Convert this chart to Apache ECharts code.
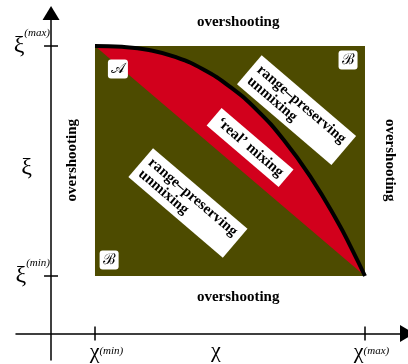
<!DOCTYPE html>
<html><head><meta charset="utf-8">
<script src="https://cdn.jsdelivr.net/npm/echarts@6/dist/echarts.min.js"></script>
<style>html,body{margin:0;padding:0;background:#fff}#c{width:408px;height:364px}</style>
</head><body><div id="c"></div>
<script>
// axis ranges (data units)
const chiRange = [0.14, 1.0];      // χ(min), χ(max)
const xiRange = [0.2, 1.0];        // ξ(min), ξ(max)
const chiTickSup = ['(min)', '(max)'];
const xiTickSup = ['(min)', '(max)'];
const chiNamePos = 0.525;
const xiNamePos = 0.575;
// boundary curve of the 'real' mixing region A
const curveChi = [0.14, 0.226, 0.312, 0.398, 0.484, 0.57, 0.656, 0.742, 0.828, 0.914, 0.957, 1.0];
const curveXi  = [1.0, 0.997, 0.986, 0.961, 0.919, 0.858, 0.777, 0.672, 0.542, 0.386, 0.296, 0.2];
// region annotations
const boxTexts = ['range–preserving\nunmixing', '‘real’ mixing', 'range–preserving\nunmixing'];
const boxChi = [0.782, 0.634, 0.436];
const boxXi = [0.777, 0.647, 0.454];
const letterTexts = ['𝒜', 'ℬ', 'ℬ'];
const letterChi = [0.213, 0.946, 0.185];
const letterXi = [0.92, 0.951, 0.2557];
const overTexts = ['overshooting', 'overshooting', 'overshooting', 'overshooting'];
const overChi = [0.596, 0.596, 0.0667, 1.0807];
const overXi = [1.0835, 0.127, 0.603, 0.603];
const overRotate = [0, 0, 90, -90];

const OLIVE = '#4d4b00', RED = '#d2001c';
const SERIF = '"Liberation Serif","DejaVu Serif",serif';
const chiSpacer = ['e1', 'e2'];

function near(a, b) { return Math.abs(a - b) < 1e-6; }
const chart = echarts.init(document.getElementById('c'), null, {renderer: 'canvas'});
const X_MIN = -0.1116, X_MAX = 1.1338, Y_MIN = -0.0922, Y_MAX = 1.1148;
const axisLineStyle = {color: '#000', width: 1.5};
const supStyle = {fontFamily: SERIF, fontStyle: 'italic', fontSize: 11, color: '#000', verticalAlign: 'top', lineHeight: 12};

const option = {
  animation: false,
  grid: {left: 16, right: 1, top: 13, bottom: 4, containLabel: false, outerBoundsMode: 'none'},
  xAxis: [
    {type: 'value', min: X_MIN, max: X_MAX, splitLine: {show: false},
     axisLine: {onZero: true, onZeroAxisIndex: 0, symbol: ['none', 'triangle'], symbolSize: [17, 14], lineStyle: axisLineStyle},
     axisTick: {show: true, customValues: chiRange, length: 7, lineStyle: axisLineStyle},
     axisLabel: {customValues: [chiRange[0], chiNamePos, chiRange[1]], margin: -14,
       formatter: function (v) {
         for (let i = 0; i < chiRange.length; i++) if (near(v, chiRange[i])) return '{' + chiSpacer[i] + '| }{c|χ}{s|' + chiTickSup[i] + '}';
         return '{c|χ}';
       },
       rich: {c: {fontFamily: SERIF, fontSize: 22, color: '#000', lineHeight: 10},
              s: supStyle, e1: {width: 23, fontSize: 11}, e2: {width: 13, fontSize: 11}}}},
    {type: 'value', min: X_MIN, max: X_MAX, position: 'bottom', splitLine: {show: false},
     axisLine: {show: false, onZero: true, onZeroAxisIndex: 0},
     axisTick: {show: true, inside: true, customValues: chiRange, length: 7, lineStyle: axisLineStyle},
     axisLabel: {show: false}}
  ],
  yAxis: [
    {type: 'value', min: Y_MIN, max: Y_MAX, splitLine: {show: false},
     axisLine: {onZero: true, onZeroAxisIndex: 0, symbol: ['none', 'triangle'], symbolSize: [17, 14], lineStyle: axisLineStyle},
     axisTick: {show: true, customValues: xiRange, length: 7, lineStyle: axisLineStyle},
     axisLabel: {customValues: [xiRange[0], xiNamePos, xiRange[1]], margin: -34,
       formatter: function (v) {
         for (let i = 0; i < xiRange.length; i++) if (near(v, xiRange[i])) return '{c|ξ}{s|' + xiTickSup[i] + '}';
         return '{c|ξ}{e| }';
       },
       rich: {c: {fontFamily: SERIF, fontSize: 24, color: '#000', lineHeight: 36}, s: supStyle, e: {width: 18, fontSize: 11}}}},
    {type: 'value', min: Y_MIN, max: Y_MAX, position: 'left', splitLine: {show: false},
     axisLine: {show: false, onZero: true, onZeroAxisIndex: 0},
     axisTick: {show: true, inside: true, customValues: xiRange, length: 7, lineStyle: axisLineStyle},
     axisLabel: {show: false}}
  ],
  series: [
    {type: 'custom', z: 1, silent: true,
     data: [[chiRange[0], xiRange[0], chiRange[1], xiRange[1]]],
     encode: {x: [0, 2], y: [1, 3]},
     renderItem: function (p, api) {
       const a = api.coord([api.value(0), api.value(1)]);
       const b = api.coord([api.value(2), api.value(3)]);
       return {type: 'rect', shape: {x: a[0], y: b[1], width: b[0] - a[0], height: a[1] - b[1]}, style: {fill: OLIVE}};
     }},
    {type: 'custom', z: 2, silent: true,
     data: curveChi.map((c, i) => [c, curveXi[i]]),
     encode: {x: 0, y: 1},
     renderItem: function (p, api) {
       if (p.dataIndex !== 0) return null;
       const pts = curveChi.map((c, i) => api.coord([c, curveXi[i]]));
       return {type: 'polygon', shape: {points: pts}, style: {fill: RED}};
     }},
    {type: 'line', z: 3, silent: true, smooth: true, showSymbol: false, symbol: 'none',
     data: curveChi.map((c, i) => [c, curveXi[i]]),
     lineStyle: {color: '#000', width: 4}},
    {type: 'scatter', z: 4, silent: true, symbolSize: 1, itemStyle: {color: 'rgba(0,0,0,0)', opacity: 1},
     data: boxTexts.map((t, i) => ({value: [boxChi[i], boxXi[i]], name: t})),
     label: {show: true, position: 'inside', rotate: -40.5,
       formatter: function (p) { return p.name.split('\n').map(l => '{a|' + l + '}').join('\n'); },
       backgroundColor: '#fff', padding: [4, 6, 4, 6],
       rich: {a: {align: 'left', fontFamily: SERIF, fontWeight: 'bold', fontSize: 15, lineHeight: 15, color: '#000'}}}},
    {type: 'scatter', z: 4, silent: true, symbolSize: 1, itemStyle: {color: 'rgba(0,0,0,0)', opacity: 1},
     data: letterTexts.map((t, i) => ({value: [letterChi[i], letterXi[i]], name: t})),
     label: {show: true, position: 'inside', formatter: '{b}', backgroundColor: '#fff', borderRadius: 3,
       padding: [2, 3, 1, 3], fontFamily: SERIF, fontSize: 15, lineHeight: 16, color: '#000'}},
    {type: 'scatter', z: 4, silent: true, symbolSize: 1, itemStyle: {color: 'rgba(0,0,0,0)', opacity: 1},
     data: overTexts.map((t, i) => ({value: [overChi[i], overXi[i]], name: t, label: {rotate: overRotate[i]}})),
     label: {show: true, position: 'inside', formatter: '{b}', fontFamily: SERIF, fontWeight: 'bold', fontSize: 15, color: '#000'}}
  ]
};
chart.setOption(option);
</script>
</body></html>
